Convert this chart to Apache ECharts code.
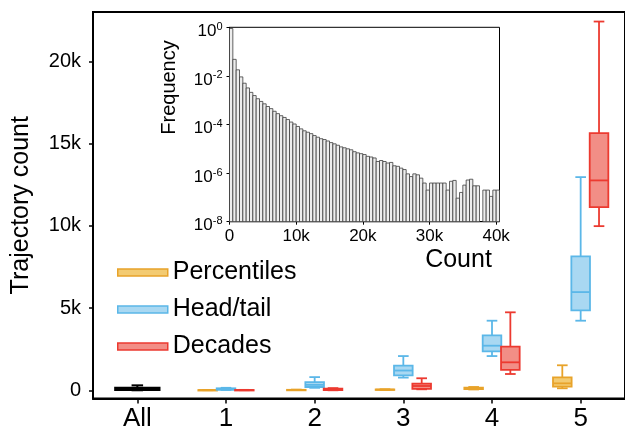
<!DOCTYPE html>
<html>
<head>
<meta charset="utf-8">
<script src="https://cdn.jsdelivr.net/npm/echarts@6/dist/echarts.min.js"></script>
<style>
  html, body { margin: 0; padding: 0; background: #fff; }
  #chart { width: 625px; height: 433px; }
</style>
</head>
<body>
<div id="chart"></div>
<script>
// Trajectory counts per number of segments, summarised as [min, Q1, median, Q3, max]
const categories = ['All', '1', '2', '3', '4', '5'];
const allTrajectories = [[0, 20, 80, 160, 300], null, null, null, null, null];
const percentiles = [null, [5, 8, 10, 14, 20], [10, 15, 20, 28, 40], [20, 30, 40, 50, 60], [50, 70, 110, 160, 200], [120, 220, 420, 780, 1520]];
const headTail = [null, [20, 30, 60, 120, 150], [150, 200, 330, 500, 800], [770, 910, 1200, 1500, 2080], [2080, 2370, 2710, 3340, 4230], [4230, 4860, 5970, 8140, 12960]];
const decades = [null, [5, 8, 12, 18, 25], [0, 10, 50, 100, 130], [60, 80, 260, 410, 730], [990, 1240, 1700, 2650, 4740], [9980, 11140, 12760, 15630, 22420]];
const countTicks = [0, 5000, 10000, 15000, 20000];

// Distribution of trajectory counts (inset), 500-wide bins starting at 0
const histBinWidth = 500;
const histFrequency = [
  0.89, 4.8e-2, 1.78e-2, 9.1e-3, 5.0e-3, 3.2e-3, 2.1e-3, 1.55e-3, 1.15e-3, 8.9e-4,
  7.1e-4, 5.5e-4, 4.5e-4, 3.5e-4, 2.8e-4, 2.3e-4, 1.95e-4, 1.6e-4, 1.26e-4, 1.05e-4,
  8.3e-5, 6.6e-5, 5.5e-5, 4.8e-5, 4.2e-5, 3.5e-5, 3.0e-5, 2.6e-5, 2.4e-5, 2.1e-5,
  1.8e-5, 1.6e-5, 1.4e-5, 1.2e-5, 1.1e-5, 1.0e-5, 9.1e-6, 7.6e-6, 6.8e-6, 6.3e-6,
  5.8e-6, 4.9e-6, 4.6e-6, 4.2e-6, 3.0e-6, 3.3e-6, 3.0e-6, 2.6e-6, 2.75e-6, 2.0e-6,
  1.9e-6, 1.6e-6, 1.4e-6, 9.3e-7, 7.2e-7, 9.3e-7, 8.5e-7, 6.2e-7, 3.9e-7, 2.0e-7,
  3.9e-7, 3.9e-7, 3.9e-7, 3.9e-7, 3.9e-7, 2.0e-7, 4.6e-7, 5.0e-7, 9.3e-8, 1.6e-7,
  3.2e-7, 5.2e-7, 5.6e-7, 3.0e-7, 3.0e-7, 0, 2.0e-7, 2.0e-7, 1.1e-7, 2.0e-7,
  2.0e-7
];
const histXTicks = [0, 10000, 20000, 30000, 40000];
const histYTicks = [1, 1e-2, 1e-4, 1e-6, 1e-8];

const FONT = "'Liberation Sans', Arial, Helvetica, sans-serif";

const COLORS = {
  all: { stroke: '#000000', fill: '#000000' },
  percentiles: { stroke: '#E8A32A', fill: '#F3CB72' },
  headTail: { stroke: '#5BB7E8', fill: '#A9D8F2' },
  decades: { stroke: '#EC3A30', fill: '#F28E86' }
};

function toBoxData(rows) {
  const out = [];
  rows.forEach((r, i) => { if (r) out.push([i].concat(r)); });
  return out;
}

// Draws one box-and-whisker per category, shifted sideways inside the band
function boxRenderer(offsetFrac, widthFrac, capFrac, color, lw) {
  return function (params, api) {
    const band = api.size([1, 0])[0];
    const cat = api.value(0);
    const cx = api.coord([cat, 0])[0] + offsetFrac * band;
    const y = k => api.coord([cat, api.value(k)])[1];
    const yMin = y(1), yQ1 = y(2), yMed = y(3), yQ3 = y(4), yMax = y(5);
    const hw = widthFrac * band / 2;
    const hc = capFrac * band / 2;
    const ls = { stroke: color.stroke, lineWidth: lw, fill: null };
    return {
      type: 'group',
      children: [
        { type: 'line', shape: { x1: cx, y1: yMax, x2: cx, y2: yQ3 }, style: ls },
        { type: 'line', shape: { x1: cx, y1: yQ1, x2: cx, y2: yMin }, style: ls },
        { type: 'line', shape: { x1: cx - hc, y1: yMax, x2: cx + hc, y2: yMax }, style: ls },
        { type: 'line', shape: { x1: cx - hc, y1: yMin, x2: cx + hc, y2: yMin }, style: ls },
        { type: 'rect', shape: { x: cx - hw, y: yQ3, width: 2 * hw, height: Math.max(yQ1 - yQ3, 0.5) },
          style: { fill: color.fill, stroke: color.stroke, lineWidth: lw } },
        { type: 'line', shape: { x1: cx - hw, y1: yMed, x2: cx + hw, y2: yMed }, style: ls }
      ]
    };
  };
}

const histData = histFrequency.map((f, i) => [i * histBinWidth, (i + 1) * histBinWidth, f]);

function histRenderer(params, api) {
  const f = api.value(2);
  if (!(f > 0)) return null;
  const p0 = api.coord([api.value(0), histYTicks[histYTicks.length - 1]]);
  const p1 = api.coord([api.value(1), f]);
  const cs = params.coordSys;
  const rect = echarts.graphic.clipRectByRect(
    { x: p0[0], y: p1[1], width: p1[0] - p0[0], height: p0[1] - p1[1] },
    { x: cs.x, y: cs.y, width: cs.width, height: cs.height }
  );
  if (!rect) return null;
  return { type: 'rect', shape: rect, style: { fill: '#ededed', stroke: '#3c3c3c', lineWidth: 0.8 } };
}

const kFormat = v => (v === 0 ? '0' : (v / 1000) + 'k');

const chart = echarts.init(document.getElementById('chart'), null, { renderer: 'canvas' });

chart.setOption({
  animation: false,
  backgroundColor: '#ffffff',
  textStyle: { fontFamily: FONT, color: '#000' },
  legend: {
    orient: 'vertical',
    left: 117,
    top: 260,
    padding: 0,
    itemWidth: 50,
    itemHeight: 7,
    itemGap: 12,
    selectedMode: false,
    textStyle: { fontFamily: FONT, fontSize: 25, color: '#000' },
    data: [
      { name: 'Percentiles', icon: 'rect', itemStyle: { color: COLORS.percentiles.fill, borderColor: COLORS.percentiles.stroke, borderWidth: 1.5 } },
      { name: 'Head/tail', icon: 'rect', itemStyle: { color: COLORS.headTail.fill, borderColor: COLORS.headTail.stroke, borderWidth: 1.5 } },
      { name: 'Decades', icon: 'rect', itemStyle: { color: COLORS.decades.fill, borderColor: COLORS.decades.stroke, borderWidth: 1.5 } }
    ]
  },
  grid: [
    { left: 93, top: 12, width: 536, height: 386.5, show: true, borderColor: '#000', borderWidth: 2, containLabel: false },
    { left: 229.5, top: 27.3, width: 270, height: 194.4, show: true, borderColor: '#000', borderWidth: 1, backgroundColor: '#fff', containLabel: false }
  ],
  xAxis: [
    {
      type: 'category', gridIndex: 0, data: categories, boundaryGap: true,
      axisLine: { show: true, onZero: false, lineStyle: { color: '#000', width: 2 } },
      axisTick: { show: true, alignWithLabel: true, length: 5, lineStyle: { color: '#000', width: 1.5 } },
      axisLabel: { fontFamily: FONT, fontSize: 26, color: '#000', margin: 7 },
      splitLine: { show: false }
    },
    {
      type: 'value', gridIndex: 1, min: 0, max: 40500,
      name: 'Count', nameLocation: 'middle', nameGap: 26,
      nameTextStyle: { fontFamily: FONT, fontSize: 25, color: '#000', padding: [0, 0, 0, 188] },
      axisLine: { show: true, onZero: false, lineStyle: { color: '#000', width: 1 } },
      axisTick: { show: true, length: 3, customValues: histXTicks, lineStyle: { color: '#000', width: 1 } },
      axisLabel: { fontFamily: FONT, fontSize: 17, color: '#000', margin: 6, customValues: histXTicks, formatter: kFormat },
      splitLine: { show: false }
    }
  ],
  yAxis: [
    {
      type: 'value', gridIndex: 0, min: -500, max: 23000,
      name: 'Trajectory count', nameLocation: 'middle', nameGap: 59,
      nameTextStyle: { fontFamily: FONT, fontSize: 25, color: '#000' },
      axisLine: { show: true, onZero: false, lineStyle: { color: '#000', width: 2 } },
      axisTick: { show: true, length: 4, customValues: countTicks, lineStyle: { color: '#000', width: 1.5 } },
      axisLabel: { fontFamily: FONT, fontSize: 20, color: '#000', margin: 12, customValues: countTicks, formatter: kFormat },
      splitLine: { show: false }
    },
    {
      type: 'log', logBase: 10, gridIndex: 1, min: 1e-8, max: 1,
      name: 'Frequency', nameLocation: 'middle', nameGap: 50,
      nameTextStyle: { fontFamily: FONT, fontSize: 20, color: '#000', padding: [0, 0, 0, 74] },
      axisLine: { show: true, onZero: false, lineStyle: { color: '#000', width: 1 } },
      axisTick: { show: true, length: 3, customValues: histYTicks, lineStyle: { color: '#000', width: 1 } },
      axisLabel: {
        customValues: histYTicks, margin: 7, padding: [8, 0, 0, 0],
        formatter: v => '{b|10}{s|' + Math.round(Math.log10(v)) + '}',
        rich: {
          b: { fontFamily: FONT, fontSize: 17, color: '#000', lineHeight: 20 },
          s: { fontFamily: FONT, fontSize: 11, color: '#000', lineHeight: 11, verticalAlign: 'top' }
        }
      },
      splitLine: { show: false }
    }
  ],
  series: [
    {
      name: 'All', type: 'custom', xAxisIndex: 0, yAxisIndex: 0,
      renderItem: boxRenderer(0, 0.5, 0.13, COLORS.all, 2),
      encode: { x: 0, y: [1, 2, 3, 4, 5] },
      data: toBoxData(allTrajectories), z: 3
    },
    {
      name: 'Percentiles', type: 'custom', xAxisIndex: 0, yAxisIndex: 0,
      renderItem: boxRenderer(-0.207, 0.21, 0.12, COLORS.percentiles, 1.8),
      encode: { x: 0, y: [1, 2, 3, 4, 5] },
      itemStyle: { color: COLORS.percentiles.fill, borderColor: COLORS.percentiles.stroke },
      data: toBoxData(percentiles), z: 3
    },
    {
      name: 'Head/tail', type: 'custom', xAxisIndex: 0, yAxisIndex: 0,
      renderItem: boxRenderer(0, 0.21, 0.12, COLORS.headTail, 1.8),
      encode: { x: 0, y: [1, 2, 3, 4, 5] },
      itemStyle: { color: COLORS.headTail.fill, borderColor: COLORS.headTail.stroke },
      data: toBoxData(headTail), z: 3
    },
    {
      name: 'Decades', type: 'custom', xAxisIndex: 0, yAxisIndex: 0,
      renderItem: boxRenderer(0.207, 0.21, 0.12, COLORS.decades, 1.8),
      encode: { x: 0, y: [1, 2, 3, 4, 5] },
      itemStyle: { color: COLORS.decades.fill, borderColor: COLORS.decades.stroke },
      data: toBoxData(decades), z: 3
    },
    {
      name: 'Frequency', type: 'custom', xAxisIndex: 1, yAxisIndex: 1,
      renderItem: histRenderer,
      encode: { x: [0, 1], y: 2 },
      data: histData, z: 4
    }
  ]
});
</script>
</body>
</html>
